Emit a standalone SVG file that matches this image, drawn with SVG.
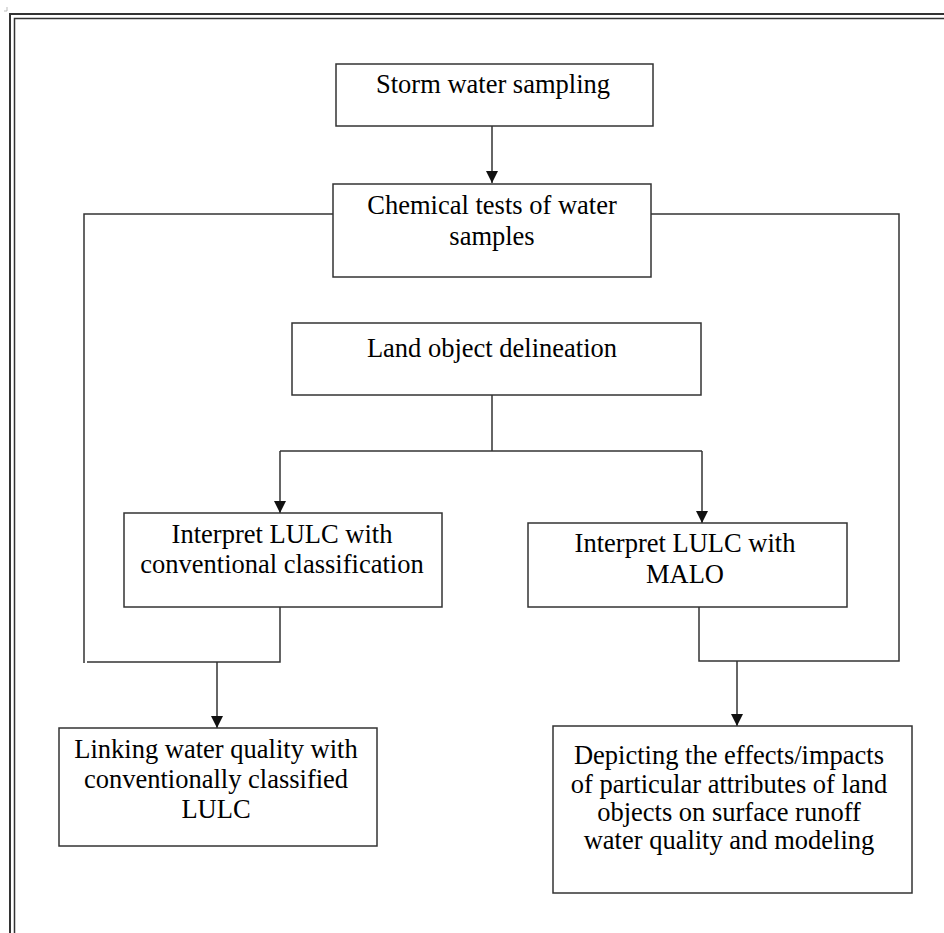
<svg xmlns="http://www.w3.org/2000/svg" width="944" height="933" viewBox="0 0 944 933">
<style>
.box{fill:#fff;stroke:#333;stroke-width:1.5}
.ln{fill:none;stroke:#333;stroke-width:1.5}
.t{font-family:'Liberation Serif','DejaVu Serif',serif;font-size:26.5px;fill:#000;text-anchor:middle}
.bd{fill:none;stroke:#333}
</style>
<defs>
<marker id="ah" viewBox="0 0 12 12" markerWidth="12" markerHeight="12" refX="12" refY="6" orient="auto" markerUnits="userSpaceOnUse">
<path d="M0,0 L12,6 L0,12 Z" fill="#111"/>
</marker>
</defs>
<rect width="944" height="933" fill="#fff"/>
<g id="border">
<path class="bd" stroke-width="2" d="M10,933 V14 H944"/>
<path class="bd" stroke-width="1.5" d="M14.5,933 V18.5 H944"/>
<path d="M4,11 H7 V7" fill="none" stroke="#bbb" stroke-width="1"/>
</g>
<g id="connectors">
<path class="ln" d="M492,126 V183" marker-end="url(#ah)"/>
<path class="ln" d="M333,214 H84 V663"/>
<path class="ln" d="M651,214 H899 V661 H699 V607"/>
<path class="ln" d="M492,395 V451"/>
<path class="ln" d="M280,451 H702"/>
<path class="ln" d="M280,451 V513" marker-end="url(#ah)"/>
<path class="ln" d="M702,451 V523" marker-end="url(#ah)"/>
<path class="ln" d="M280,607 V662 H87"/>
<path class="ln" d="M217,662 V728" marker-end="url(#ah)"/>
<path class="ln" d="M737,661 V726" marker-end="url(#ah)"/>
</g>
<g id="storm">
<rect class="box" x="336" y="64" width="317" height="62"/>
<text class="t" x="493" y="93">Storm water sampling</text>
</g>
<g id="chemical">
<rect class="box" x="333" y="184" width="318" height="93"/>
<text class="t" x="492" y="214">Chemical tests of water</text>
<text class="t" x="492" y="245">samples</text>
</g>
<g id="land">
<rect class="box" x="292" y="323" width="409" height="72"/>
<text class="t" x="492" y="357">Land object delineation</text>
</g>
<g id="conventional">
<rect class="box" x="124" y="513" width="318" height="94"/>
<text class="t" x="282" y="543">Interpret LULC with</text>
<text class="t" x="282" y="573">conventional classification</text>
</g>
<g id="malo">
<rect class="box" x="528" y="523" width="319" height="84"/>
<text class="t" x="685" y="552">Interpret LULC with</text>
<text class="t" x="685" y="583">MALO</text>
</g>
<g id="linking">
<rect class="box" x="59" y="728" width="318" height="118"/>
<text class="t" x="216" y="758">Linking water quality with</text>
<text class="t" x="216" y="788">conventionally classified</text>
<text class="t" x="216" y="818">LULC</text>
</g>
<g id="depicting">
<rect class="box" x="553" y="726" width="359" height="167"/>
<text class="t" x="729" y="764">Depicting the effects/impacts</text>
<text class="t" x="729" y="793">of particular attributes of land</text>
<text class="t" x="729" y="821">objects on surface runoff</text>
<text class="t" x="729" y="849">water quality and modeling</text>
</g>
</svg>
